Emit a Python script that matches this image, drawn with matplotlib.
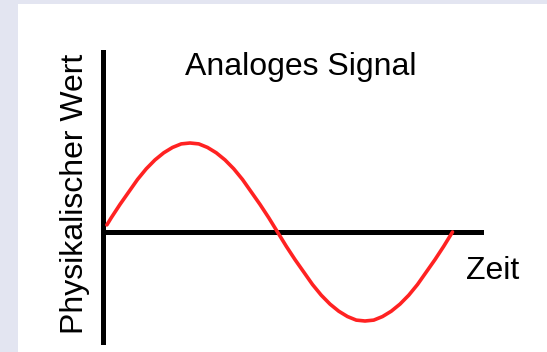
import matplotlib.pyplot as plt
from matplotlib.patches import Rectangle

plt.rcParams['font.family'] = ['Liberation Sans', 'DejaVu Sans']

# Signal over one period (time in periods, value relative to amplitude)
zeit = [0.0125, 0.025, 0.05, 0.075, 0.1, 0.125, 0.15, 0.175, 0.2, 0.225, 0.25,
        0.275, 0.3, 0.325, 0.35, 0.375, 0.4, 0.425, 0.45, 0.475, 0.5,
        0.525, 0.55, 0.575, 0.6, 0.625, 0.65, 0.675, 0.7, 0.725, 0.75,
        0.775, 0.8, 0.825, 0.85, 0.875, 0.9, 0.925, 0.95, 0.975, 1.0]
wert = [0.08, 0.16, 0.31, 0.45, 0.59, 0.71, 0.81, 0.89, 0.95, 0.99, 1.00,
        0.99, 0.95, 0.89, 0.81, 0.71, 0.59, 0.45, 0.31, 0.16, 0.00,
        -0.16, -0.31, -0.45, -0.59, -0.71, -0.81, -0.89, -0.95, -0.99, -1.00,
        -0.99, -0.95, -0.89, -0.81, -0.71, -0.59, -0.45, -0.31, -0.16, 0.00]

W, H = 547, 352
fig = plt.figure(figsize=(W / 100, H / 100), dpi=100, facecolor='#e3e5f1')

# white panel inside the lavender frame
fig.patches.append(Rectangle((18 / W, 0), 1 - 18 / W, (H - 4) / H,
                             transform=fig.transFigure, facecolor='white',
                             edgecolor='none', zorder=-1))

ax = fig.add_axes([102.5 / W, 10 / H, 381.5 / W, 290 / H])
ax.set_zorder(1)
ax.set_facecolor('none')
ax.set_xlim(0, 1.09)
ax.set_ylim(-110 / 89, 180 / 89)

for side in ['top', 'right', 'bottom']:
    ax.spines[side].set_visible(False)
ax.spines['left'].set_linewidth(3.6)
ax.spines['left'].set_color('black')
ax.set_xticks([])
ax.set_yticks([])

ax.axhline(0, color='black', linewidth=3.6, zorder=2)
ax.plot(zeit, wert, color='#ff2222', linewidth=2.6, solid_capstyle='round',
        zorder=3)

fig.text(301 / W, (H - 75) / H, 'Analoges Signal', fontsize=23,
         ha='center', va='baseline', zorder=2)
fig.text(466 / W, (H - 279) / H, 'Zeit', fontsize=23,
         ha='left', va='baseline', zorder=2)
fig.text(83 / W, (H - 193.5) / H, 'Physikalischer Wert', fontsize=23,
         rotation=90, rotation_mode='anchor', ha='center', va='baseline',
         zorder=2)

plt.savefig('out.png', dpi=100)
